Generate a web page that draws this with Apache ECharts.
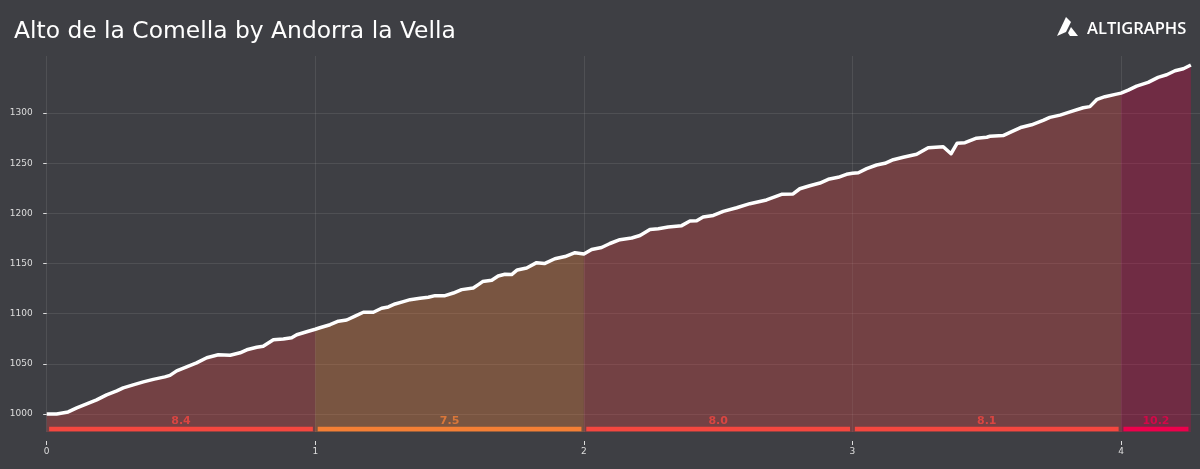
<!DOCTYPE html>
<html>
<head>
<meta charset="utf-8">
<style>html,body{margin:0;padding:0;background:#3e3f44}#container{width:1200px;height:469px}</style>
<script src="https://cdn.jsdelivr.net/npm/echarts@6/dist/echarts.min.js"></script>
</head>
<body>
<div id="container"></div>
<script>
var chartTitle = 'Alto de la Comella by Andorra la Vella';
var kms = [0,0.037,0.08,0.112,0.149,0.186,0.223,0.261,0.285,0.322,0.36,0.397,0.44,0.459,0.484,0.521,0.558,0.596,0.639,0.683,0.72,0.745,0.782,0.806,0.844,0.881,0.912,0.931,0.968,
    1,1.017,1.055,1.086,1.117,1.148,1.179,1.216,1.247,1.272,1.297,1.328,1.353,1.39,1.421,1.446,1.483,1.514,1.545,1.588,1.607,1.623,1.657,1.681,1.706,1.731,1.752,1.787,1.824,1.853,1.892,1.93,1.967,
    2,2.029,2.066,2.097,2.134,2.178,2.209,2.246,2.277,2.314,2.364,2.395,2.42,2.444,2.482,2.519,2.569,2.618,2.68,2.736,2.779,2.804,2.841,2.879,2.91,2.947,2.978,
    3,3.022,3.053,3.09,3.121,3.152,3.189,3.239,3.282,3.338,3.367,3.39,3.419,3.462,3.5,3.512,3.561,3.593,3.63,3.667,3.71,3.735,3.773,3.816,3.859,3.884,3.911,3.94,3.983,
    4,4.027,4.058,4.101,4.138,4.17,4.201,4.232,4.26];
var elevations = [1000,1000,1002,1006,1010,1014,1019,1023,1026,1029,1032,1034.5,1037,1038.5,1043,1047,1051,1056,1059,1058.5,1061,1064,1066.5,1067.5,1074,1074.7,1076,1079,1082,
    1084.5,1086,1089,1092.5,1093.7,1097.5,1101.4,1101.4,1105.4,1106.7,1109.7,1112,1114,1115.4,1116.4,1118,1118,1120.6,1124,1125.6,1129,1132,1133.3,1137.6,1139.3,1139,1143.6,1145.6,1150.9,1150,1154.8,1157,1160.8,
    1159.5,1164,1166,1170,1173.8,1175.5,1178,1184,1184.8,1186.4,1187.8,1192.4,1192.7,1196.4,1198,1202,1205.7,1209.7,1213.4,1219,1219.4,1224.6,1227.6,1230.3,1234,1236,1239,
    1240,1240.6,1244.6,1248.3,1250,1253.6,1256,1259,1265.5,1266.5,1259.5,1270,1270.5,1275,1276,1277,1277.6,1281.5,1286,1288.4,1292.8,1295.8,1298,1301.8,1305.4,1306.5,1313.8,1316.4,1319,
    1320,1323,1327,1330.7,1335.7,1338.3,1342.3,1344.3,1348];
var segStarts = [0,1,2,3,4];
var segEnds = [1,2,3,4,4.26];
var segGrades = ['8.4','7.5','8.0','8.1','10.2'];
var segBarColors = ['#f5473f','#f47f35','#f5473f','#f5473f','#ee004c'];
var segFillColors = ['rgba(239,70,68,0.3)','rgba(238,128,62,0.34)','rgba(239,70,68,0.3)','rgba(239,70,68,0.3)','rgba(229,0,68,0.3)'];
var yTicks = [1000,1050,1100,1150,1200,1250,1300];
var barLevel = 985;
var fontName = '"DejaVu Sans", sans-serif';

var dom = document.getElementById('container');
var myChart = echarts.init(dom);

var profile = kms.map(function (km, i) { return [km, elevations[i]]; });
var series = [];

// filled area per gradient segment
segStarts.forEach(function (start, i) {
    series.push({
        type: 'line',
        silent: true,
        symbol: 'none',
        lineStyle: {width: 0},
        areaStyle: {color: segFillColors[i], origin: 'start', opacity: 1},
        data: profile.filter(function (p) { return p[0] >= start && p[0] <= segEnds[i]; })
    });
});

// gradient bars along the bottom, with the value above
segStarts.forEach(function (start, i) {
    series.push({
        type: 'line',
        silent: true,
        symbol: 'none',
        lineStyle: {width: 4.5, color: segBarColors[i], cap: 'butt'},
        data: [[start + 0.009, barLevel], [segEnds[i] - 0.009, barLevel]]
    });
    series.push({
        type: 'scatter',
        silent: true,
        symbolSize: 0,
        label: {
            show: true,
            position: 'top',
            distance: 2,
            color: segBarColors[i],
            fontFamily: fontName,
            fontWeight: 'bold',
            fontSize: 11,
            formatter: segGrades[i]
        },
        data: [[(start + segEnds[i]) / 2, barLevel]]
    });
});

series.push({
    type: 'line',
    silent: true,
    symbol: 'none',
    lineStyle: {width: 3.5, color: '#fff', join: 'round'},
    data: profile
});

var option = {
    backgroundColor: '#3e3f44',
    animation: false,
    title: {
        text: chartTitle,
        left: 9,
        top: 15,
        textStyle: {color: '#fff', fontFamily: fontName, fontWeight: 'normal', fontSize: 23.4}
    },
    grid: {left: 46.7, right: 0, top: 56, bottom: 37},
    xAxis: {
        type: 'value',
        min: 0,
        max: 4.294,
        interval: 1,
        offset: 9,
        axisLine: {show: false},
        axisTick: {show: true, length: 4, lineStyle: {color: '#ddd'}},
        axisLabel: {color: '#ddd', fontFamily: fontName, fontSize: 9, margin: 6, showMaxLabel: false},
        splitLine: {show: true, lineStyle: {color: 'rgba(255,255,255,0.09)', width: 1}}
    },
    yAxis: {
        type: 'value',
        min: 982,
        max: 1357,
        offset: 9,
        axisLine: {show: false},
        axisTick: {show: true, length: 3.5, lineStyle: {color: '#ddd'}, customValues: yTicks},
        axisLabel: {
            color: '#ddd',
            fontFamily: fontName,
            fontSize: 9,
            margin: 5,
            customValues: yTicks,
            formatter: function (v) { return String(v); }
        },
        splitLine: {show: true, lineStyle: {color: 'rgba(255,255,255,0.09)', width: 1}}
    },
    graphic: [
        {type: 'polygon', shape: {points: [[1066,17],[1071,22],[1066,32],[1057,36]]}, style: {fill: '#fff'}},
        {type: 'polygon', shape: {points: [[1071,27],[1078,36],[1070,36],[1068,33]]}, style: {fill: '#fff'}},
        {type: 'text', left: 1087, top: 21, style: {text: 'ALTIGRAPHS', fill: '#fff', font: '600 16.5px "Open Sans"'}}
    ],
    series: series
};

myChart.setOption(option, true);
</script>
</body>
</html>
